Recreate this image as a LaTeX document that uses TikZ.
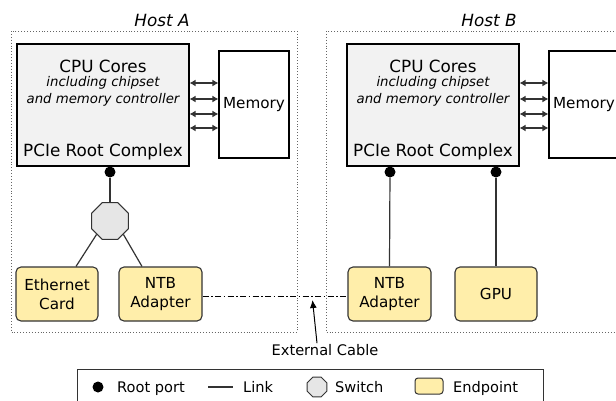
\documentclass[tikz,border=0pt]{standalone}
\usepackage{fontspec}
\setmainfont{DejaVu Sans}
\usetikzlibrary{arrows.meta,shapes.geometric,calc}
\definecolor{epfill}{HTML}{FFEEAA}
\definecolor{cpufill}{HTML}{F2F2F2}
\definecolor{swfill}{HTML}{E6E6E6}
\definecolor{linkc}{HTML}{333333}
\begin{document}
\begin{tikzpicture}[x=1pt,y=-1pt,
  hostbox/.style={draw=black!60,dotted,line width=0.9pt},
  cpubox/.style={draw=black,fill=cpufill,line width=1.1pt,minimum width=172pt,minimum height=122pt,inner sep=0pt},
  membox/.style={draw=black,fill=white,line width=1.1pt,minimum width=70pt,minimum height=107pt,inner sep=0pt,font=\fontsize{15.2}{18}\selectfont},
  epbox/.style={draw=linkc,fill=epfill,line width=1.1pt,rounded corners=5pt,minimum width=82pt,minimum height=54pt,inner sep=0pt,align=center,font=\fontsize{15.2}{19}\selectfont},
  swnode/.style={draw=linkc,fill=swfill,line width=1pt,regular polygon,regular polygon sides=8,minimum size=40pt,inner sep=0pt},
  rootdot/.style={circle,fill=black,minimum size=11pt,inner sep=0pt},
  link/.style={draw=linkc,line width=1.2pt},
  biarrow/.style={draw=linkc,line width=1.2pt,{Latex[length=6pt,width=7pt]}-{Latex[length=6pt,width=7pt]}},
  bigtxt/.style={font=\fontsize{16.8}{20}\selectfont,inner sep=0pt},
  ittxt/.style={font=\fontsize{13.3}{17}\selectfont\itshape,inner sep=0pt},
  hosttxt/.style={font=\fontsize{16.8}{20}\selectfont\itshape,inner sep=0pt},
  legtxt/.style={font=\fontsize{14.6}{17}\selectfont,inner sep=0pt,anchor=base west}
]
\useasboundingbox (0,0) rectangle (616,400);
\clip (0,0) rectangle (616,400);

% host boxes
\draw[hostbox] (11,31) rectangle (297,332);
\draw[hostbox] (326,31) rectangle (640,332);
\node[hosttxt] (hostA) at (162,20) {Host A};
\node[hosttxt] (hostB) at (489,20) {Host B};

% Host A
\node[cpubox] (cpuA) at (103,105) {};
\node[bigtxt] (cpuAt) at (103,66) {CPU Cores};
\node[ittxt] (cpuAi1) at (103,83) {including chipset};
\node[ittxt] (cpuAi2) at (103,100) {and memory controller};
\node[bigtxt] (cpuAp) at (103,152) {PCIe Root Complex};
\node[membox] (memA) at (254,104.5) {Memory};
\foreach \yy in {83,99,114,128}
  \draw[biarrow] (cpuA.east |- 0,\yy) -- (memA.west |- 0,\yy);

\node[rootdot] (rpA) at (110,172) {};
\node[swnode] (swA) at (110,221) {};
\node[epbox] (eth) at (57,294) {Ethernet\\Card};
\node[epbox,minimum width=83pt] (ntbA) at (160.5,294) {NTB\\Adapter};
\draw[link] (rpA) -- (swA.north);
\draw[link] (swA.south west) -- ([xshift=19pt]eth.north);
\draw[link] (swA.south east) -- ([xshift=-18.5pt]ntbA.north);

% Host B
\node[cpubox] (cpuB) at (433,105) {};
\node[bigtxt] (cpuBt) at (433,66) {CPU Cores};
\node[ittxt] (cpuBi1) at (433,83) {including chipset};
\node[ittxt] (cpuBi2) at (433,100) {and memory controller};
\node[bigtxt] (cpuBp) at (433,152) {PCIe Root Complex};
\node[membox] (memB) at (584,104.5) {Memory};
\foreach \yy in {83,99,114,128}
  \draw[biarrow] (cpuB.east |- 0,\yy) -- (memB.west |- 0,\yy);

\node[rootdot] (rpB1) at (390,172) {};
\node[rootdot] (rpB2) at (496,172) {};
\node[epbox,minimum width=83pt] (ntbB) at (389.5,294) {NTB\\Adapter};
\node[epbox] (gpu) at (496,294) {GPU};
\draw[link] (rpB1) -- (ntbB.north);
\draw[link] (rpB2) -- (gpu.north);

% external cable
\draw[draw=black,line width=1pt,dash pattern=on 6pt off 2.5pt on 1.5pt off 2.5pt] (ntbA.east |- 0,296) -- (ntbB.west |- 0,296);
\node[font=\fontsize{14.6}{17}\selectfont,inner sep=0pt] (cable) at (325,350) {External Cable};
\coordinate (cabletip) at (312.5,300);
\draw[black,line width=1pt,-{Latex[length=8pt,width=7pt]}] ([xshift=-8pt,yshift=1pt]cable.north) -- (cabletip);

% legend
\draw[black!80,line width=1pt] (77,369) rectangle (543,410);
\node[circle,fill=black,minimum size=11pt,inner sep=0pt] (lgdot) at (98,387) {};
\node[legtxt] (lgroot) at (117,392) {Root port};
\coordinate (lglinkA) at (208,387);
\coordinate (lglinkB) at (233,387);
\draw[link] (lglinkA) -- (lglinkB);
\node[legtxt] (lglink) at (243,392) {Link};
\node[swnode,minimum size=21.5pt,line width=0.9pt] (lgsw) at (317,387) {};
\node[legtxt] (lgswt) at (335,392) {Switch};
\node[draw=linkc,fill=epfill,line width=1pt,rounded corners=3pt,minimum width=28pt,minimum height=16pt,inner sep=0pt] (lgep) at (429,386) {};
\node[legtxt] (lgept) at (453,392) {Endpoint};
\end{tikzpicture}
\end{document}
